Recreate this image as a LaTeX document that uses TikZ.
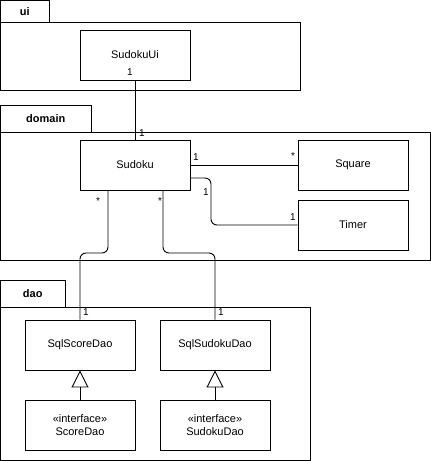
\documentclass[tikz,border=0pt]{standalone}
\usepackage{fontspec}
\setmainfont{Liberation Sans}
\usetikzlibrary{calc,arrows.meta}
\begin{document}
\begin{tikzpicture}[x=1pt,y=-1pt,line width=0.9pt,
  cls/.style={draw,minimum width=110pt,minimum height=50pt,inner sep=0pt,font=\fontsize{11}{13}\selectfont,align=center},
  lbl/.style={font=\fontsize{10}{12}\selectfont,inner sep=0pt},
  conn/.style={rounded corners=6pt},
  inh/.style={-{Triangle[open,length=17pt,width=17pt]}}]
\useasboundingbox (0,0) rectangle (431,461);
% packages
\draw (0.5,0.5) rectangle (49,22) node[midway,font=\fontsize{11}{13}\selectfont\bfseries] (uitab) {ui};
\draw (0.5,22) rectangle (300,90);
\draw (0.5,105) rectangle (91,132) node[midway,font=\fontsize{11}{13}\selectfont\bfseries] (domtab) {domain};
\draw (0.5,132) rectangle (430,260);
\draw (0.5,280) rectangle (65,307) node[midway,font=\fontsize{11}{13}\selectfont\bfseries] (daotab) {dao};
\draw (0.5,307) rectangle (310,460);
% classes
\node[cls] (ui) at (135,55) {SudokuUi};
\node[cls] (sudoku) at (135,165) {Sudoku};
\node[cls] (square) at (353,165) {Square};
\node[cls] (timer) at (353,225) {Timer};
\node[cls] (sqlscore) at (80,345) {SqlScoreDao};
\node[cls] (sqlsudoku) at (215,345) {SqlSudokuDao};
\node[cls] (scoredao) at (80,425) {«interface»\\ScoreDao};
\node[cls] (sudokudao) at (215,425) {«interface»\\SudokuDao};
% connectors
\draw (ui.south) -- (sudoku.north);
\draw (sudoku.east) -- (square.west);
\draw[conn] ($(sudoku.east)+(0,13)$) -- (211,178) -- (211,225) -- (timer.west);
\draw[conn] ($(sudoku.south)+(-27,0)$) -- (108,253) -- (80,253) -- (sqlscore.north);
\draw[conn] ($(sudoku.south)+(28,0)$) -- (163,253) -- (215,253) -- (sqlsudoku.north);
\draw[inh] (scoredao.north) -- (sqlscore.south);
\draw[inh] (sudokudao.north) -- (sqlsudoku.south);
% multiplicities
\node[lbl] at (130,72) {1};
\node[lbl] at (142,133) {1};
\node[lbl] at (196,157) {1};
\node[lbl] at (293,156) {*};
\node[lbl] at (206,192) {1};
\node[lbl] at (293,217) {1};
\node[lbl] at (98,201) {*};
\node[lbl] at (160,201) {*};
\node[lbl] at (86,312) {1};
\node[lbl] at (221,312) {1};
\end{tikzpicture}
\end{document}
